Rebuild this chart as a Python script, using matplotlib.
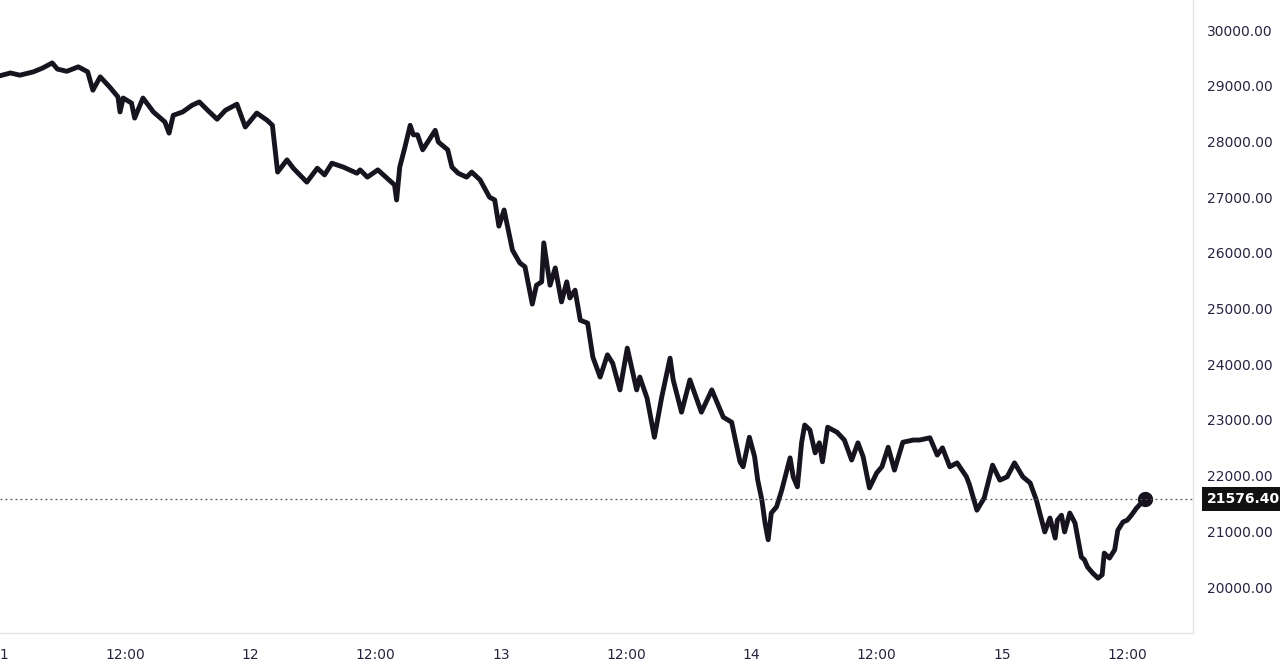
#!/usr/bin/env python3

import matplotlib
matplotlib.use("Agg")
import matplotlib.pyplot as plt

# hours since day 11 00:00, and price
hours = [0.0, 1.0, 1.9, 3.2, 4.1, 5.0, 5.5, 6.4, 7.5, 8.4, 8.9, 9.6, 10.5, 11.3, 11.5,
         11.8, 12.6, 12.9, 13.7, 14.7, 15.8, 16.2, 16.6, 17.5, 18.4, 19.1, 19.9, 20.8,
         21.6, 22.7, 23.5, 24.6, 25.6, 26.1, 26.6, 27.5, 28.1, 29.4, 30.4, 31.1, 31.8,
         32.9, 34.2, 34.5, 35.2, 36.2, 37.8, 38.0, 38.3, 38.8, 39.3, 39.6, 40.0, 40.5,
         41.7, 42.0, 42.9, 43.3, 43.9, 44.7, 45.2, 46.0, 46.9, 47.4, 47.8, 48.3, 49.1,
         49.8, 50.3, 51.0, 51.4, 51.9, 52.1, 52.7, 53.2, 53.8, 54.3, 54.6, 55.1, 55.6,
         56.3, 56.8, 57.5, 58.2, 58.7, 59.4, 60.1, 61.0, 61.3, 62.0, 62.7, 63.4, 64.2,
         64.5, 65.3, 66.1, 67.2, 68.2, 69.3, 70.1,
         70.9, 71.2, 71.6, 71.8, 72.3, 72.6, 73.0, 73.3, 73.6, 73.9, 74.4, 74.9, 75.4,
         75.7, 76.0, 76.4, 76.8, 77.1, 77.6, 78.1, 78.5, 78.8, 79.3, 80.2, 80.9, 81.6,
         82.2, 82.7, 83.3, 84.0, 84.5, 85.1, 85.7, 86.5, 87.5, 88.1, 89.1, 89.8, 90.3,
         91.0, 91.7, 92.6, 92.9, 93.6, 94.3, 95.1, 95.8, 96.5, 97.2, 98.0, 98.7,
         99.3, 99.8, 100.1, 100.6, 101.1, 101.3, 101.7, 102.0, 102.5, 103.0, 103.3,
         103.6, 103.9, 104.2, 104.7, 105.2, 105.6, 105.8, 106.3, 106.8, 107.1, 107.6,
         108.0, 108.4, 108.9, 109.4, 109.7]
price = [29180, 29230, 29190, 29250, 29320, 29410, 29300, 29260, 29340, 29250, 28920,
         29160, 28980, 28800, 28530, 28780, 28690, 28420, 28780, 28530, 28350, 28150,
         28470, 28530, 28650, 28710, 28560, 28400, 28560, 28670, 28260, 28510, 28380,
         28290, 27450, 27670, 27520, 27270, 27520, 27400, 27610, 27540, 27430, 27490,
         27360, 27490, 27220, 26950, 27540, 27900, 28290, 28120, 28120, 27850, 28200,
         27990, 27850, 27540, 27430, 27360, 27450, 27310, 27000, 26950, 26480, 26770,
         26050, 25820, 25750, 25080, 25420, 25480, 26180, 25420, 25730, 25120, 25480,
         25190, 25330, 24790, 24740, 24130, 23770, 24170, 24020, 23540, 24290, 23540,
         23770, 23390, 22690, 23410, 24110, 23720, 23140, 23720, 23140, 23540, 23050,
         22960,
         22250, 22160, 22510, 22690, 22340, 21920, 21560, 21150, 20850, 21330, 21440,
         21740, 22100, 22320, 21980, 21800, 22590, 22910, 22820, 22410, 22590, 22250,
         22870, 22780, 22640, 22280, 22590,
         22340, 21780, 22050, 22160, 22510, 22100, 22600, 22640, 22640, 22680, 22370,
         22500, 22160, 22230, 21980, 21830, 21380, 21600, 22190, 21920, 21980, 22230,
         21980, 21870,
         21560, 21200, 20990, 21240, 20880, 21200, 21290, 20990, 21330, 21150, 20850,
         20540, 20490, 20360, 20250, 20160, 20220, 20610, 20520, 20670, 21020, 21170,
         21200, 21290, 21420, 21520, 21576.40]

y_ticks = [20000, 21000, 22000, 23000, 24000, 25000, 26000, 27000, 28000, 29000, 30000]
x_ticks = [0, 12, 24, 36, 48, 60, 72, 84, 96, 108]
x_labels = ["11", "12:00", "12", "12:00", "13", "12:00", "14", "12:00", "15", "12:00"]
last_price = 21576.40

text_col = "#2b2240"
line_col = "#17131f"

fig = plt.figure(figsize=(12.8, 6.66), dpi=100)
ax = fig.add_axes([0.0, 0.0495, 0.932, 0.9505])

ax.plot(hours, price, color=line_col, linewidth=3.5, solid_joinstyle="round")
ax.plot(hours[-1], price[-1], "o", color=line_col, markersize=10)
ax.axhline(last_price, color="#555560", linewidth=0.9, linestyle=(0, (1.5, 2.5)), clip_on=False)

ax.set_xlim(0, 114.3)
ax.set_ylim(19175, 30540)

ax.yaxis.tick_right()
ax.set_yticks(y_ticks)
ax.set_yticklabels([f"{v:.2f}" for v in y_ticks])
ax.set_xticks(x_ticks)
ax.set_xticklabels(x_labels)
ax.tick_params(axis="both", length=0, labelsize=10, labelcolor=text_col)
ax.tick_params(axis="y", pad=10)
ax.tick_params(axis="x", pad=11)

for side in ["left", "top"]:
    ax.spines[side].set_visible(False)
for side in ["right", "bottom"]:
    ax.spines[side].set_color("#e3e5ec")
    ax.spines[side].set_linewidth(1.0)

ax.annotate(f"{last_price:.2f}", xy=(1.0, last_price), xycoords=("axes fraction", "data"),
            xytext=(10, 0), textcoords="offset points", va="center", ha="left",
            color="white", fontsize=10, fontweight="bold",
            bbox=dict(boxstyle="square,pad=0.35", facecolor="#111111", edgecolor="none"))

fig.savefig("out.png", dpi=100)
